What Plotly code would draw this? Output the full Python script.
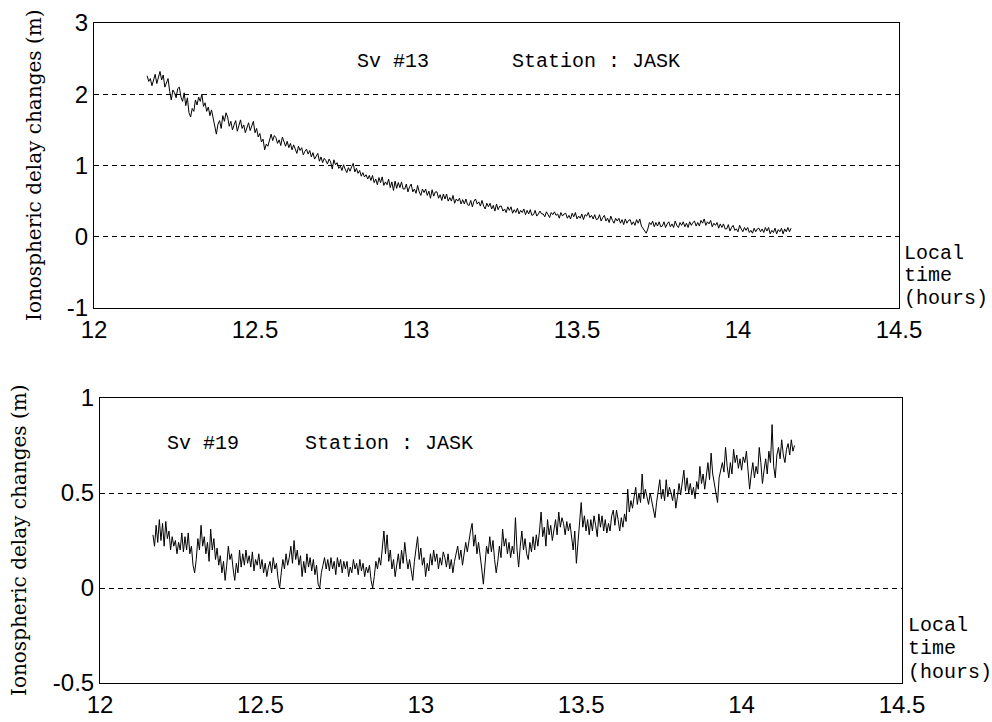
import numpy as np
import plotly.graph_objects as go

# ---- data ----
time_start_hours = 12.165
time_step_hours = 0.005

x_tick_values = [12, 12.5, 13, 13.5, 14, 14.5]
x_tick_labels = ["12", "12.5", "13", "13.5", "14", "14.5"]
y1_tick_values = [-1, 0, 1, 2, 3]
y1_tick_labels = ["-1", "0", "1", "2", "3"]
y2_tick_values = [-0.5, 0, 0.5, 1]
y2_tick_labels = ["-0.5", "0", "0.5", "1"]

sv13_delay = [
    2.26, 2.18, 2.22, 2.12, 2.20, 2.28, 2.15, 2.24, 2.32, 2.20, 2.27, 2.10, 2.16, 2.22, 2.04, 1.92, 2.06, 2.02, 1.95, 2.08,
    2.10, 1.96, 1.90, 2.02, 1.84, 1.95, 1.74, 1.68, 1.80, 1.76, 1.92, 1.85, 1.96, 1.90, 2.00, 1.83, 1.88, 1.76, 1.82, 1.70,
    1.78, 1.65, 1.55, 1.44, 1.58, 1.63, 1.52, 1.70, 1.62, 1.74, 1.68, 1.55, 1.62, 1.50, 1.57, 1.63, 1.48, 1.55, 1.64, 1.52,
    1.57, 1.46, 1.53, 1.60, 1.49, 1.56, 1.62, 1.46, 1.52, 1.40, 1.45, 1.33, 1.37, 1.22, 1.30, 1.27, 1.38, 1.44, 1.35, 1.42,
    1.39, 1.31, 1.36, 1.28, 1.40, 1.32, 1.27, 1.34, 1.25, 1.31, 1.22, 1.29, 1.24, 1.17, 1.27, 1.21, 1.25, 1.15, 1.20, 1.23,
    1.16, 1.21, 1.12, 1.18, 1.09, 1.14, 1.17, 1.06, 1.12, 1.04, 1.10, 1.07, 1.02, 1.09, 1.05, 0.95, 1.08, 1.01, 1.04, 0.96,
    0.99, 0.93, 1.01, 0.95, 0.90, 0.97, 0.92, 0.98, 1.03, 0.91, 0.96, 0.89, 0.93, 0.85, 0.90, 0.84, 0.87, 0.81, 0.86, 0.79,
    0.86, 0.76, 0.81, 0.73, 0.83, 0.76, 0.84, 0.72, 0.77, 0.73, 0.81, 0.69, 0.77, 0.65, 0.78, 0.68, 0.76, 0.69, 0.77, 0.67,
    0.67, 0.74, 0.63, 0.70, 0.74, 0.63, 0.67, 0.61, 0.72, 0.63, 0.58, 0.67, 0.62, 0.67, 0.58, 0.64, 0.54, 0.66, 0.57, 0.63,
    0.63, 0.54, 0.59, 0.51, 0.60, 0.53, 0.60, 0.50, 0.55, 0.50, 0.58, 0.47, 0.53, 0.50, 0.54, 0.46, 0.52, 0.46, 0.53, 0.45,
    0.44, 0.51, 0.42, 0.50, 0.53, 0.46, 0.49, 0.43, 0.51, 0.43, 0.39, 0.47, 0.42, 0.47, 0.39, 0.44, 0.36, 0.46, 0.38, 0.43,
    0.43, 0.36, 0.39, 0.34, 0.42, 0.37, 0.42, 0.33, 0.38, 0.34, 0.40, 0.32, 0.37, 0.34, 0.39, 0.31, 0.37, 0.32, 0.38, 0.30,
    0.31, 0.37, 0.29, 0.32, 0.36, 0.32, 0.32, 0.28, 0.35, 0.31, 0.27, 0.34, 0.31, 0.35, 0.30, 0.32, 0.26, 0.34, 0.29, 0.32,
    0.33, 0.26, 0.30, 0.25, 0.33, 0.28, 0.34, 0.25, 0.29, 0.26, 0.32, 0.24, 0.31, 0.29, 0.34, 0.27, 0.30, 0.25, 0.31, 0.24,
    0.25, 0.31, 0.22, 0.27, 0.30, 0.22, 0.26, 0.20, 0.29, 0.23, 0.19, 0.26, 0.22, 0.26, 0.19, 0.24, 0.17, 0.25, 0.19, 0.23,
    0.24, 0.17, 0.21, 0.16, 0.24, 0.19, 0.25, 0.15, 0.12, 0.08, 0.05, 0.11, 0.20, 0.17, 0.22, 0.14, 0.20, 0.15, 0.21, 0.14,
    0.15, 0.21, 0.13, 0.18, 0.21, 0.14, 0.18, 0.13, 0.22, 0.16, 0.13, 0.20, 0.16, 0.21, 0.14, 0.19, 0.13, 0.21, 0.16, 0.20,
    0.22, 0.15, 0.20, 0.15, 0.23, 0.19, 0.25, 0.16, 0.21, 0.18, 0.23, 0.14, 0.19, 0.16, 0.20, 0.12, 0.18, 0.13, 0.18, 0.11,
    0.11, 0.17, 0.08, 0.13, 0.16, 0.09, 0.11, 0.07, 0.16, 0.11, 0.07, 0.13, 0.09, 0.13, 0.06, 0.09, 0.05, 0.12, 0.07, 0.11,
    0.12, 0.07, 0.11, 0.06, 0.13, 0.08, 0.13, 0.04, 0.09, 0.06, 0.12, 0.04, 0.10, 0.07, 0.12, 0.04, 0.11, 0.07, 0.13, 0.07,
    0.12,
]

sv19_delay = [
    0.28, 0.22, 0.33, 0.24, 0.36, 0.25, 0.34, 0.22, 0.35, 0.26, 0.30, 0.20, 0.27, 0.22, 0.25, 0.18, 0.24, 0.20, 0.29, 0.19,
    0.27, 0.20, 0.29, 0.18, 0.22, 0.12, 0.08, 0.15, 0.26, 0.20, 0.33, 0.22, 0.27, 0.18, 0.24, 0.14, 0.31, 0.20, 0.26, 0.15,
    0.21, 0.12, 0.17, 0.08, 0.14, 0.04, 0.12, 0.22, 0.15, 0.18, 0.10, 0.04, 0.13, 0.08, 0.20, 0.11, 0.18, 0.12, 0.20, 0.13,
    0.17, 0.11, 0.19, 0.09, 0.15, 0.12, 0.18, 0.10, 0.15, 0.08, 0.13, 0.06, 0.11, 0.14, 0.08, 0.16, 0.10, 0.13, 0.05, 0.00,
    0.08, 0.15, 0.10, 0.18, 0.12, 0.16, 0.22, 0.13, 0.25, 0.15, 0.20, 0.12, 0.17, 0.06, 0.14, 0.08, 0.18, 0.11, 0.16, 0.09,
    0.15, 0.07, 0.12, 0.02, 0.00, 0.08, 0.12, 0.16, 0.10, 0.15, 0.09, 0.16, 0.10, 0.14, 0.07, 0.16, 0.11, 0.15, 0.08, 0.14,
    0.10, 0.14, 0.06, 0.11, 0.08, 0.15, 0.10, 0.13, 0.07, 0.15, 0.09, 0.13, 0.06, 0.11, 0.08, 0.12, 0.04, 0.00, 0.06, 0.14,
    0.10, 0.16, 0.12, 0.22, 0.30, 0.18, 0.28, 0.14, 0.20, 0.10, 0.15, 0.06, 0.12, 0.18, 0.10, 0.20, 0.13, 0.24, 0.16, 0.10,
    0.15, 0.08, 0.04, 0.14, 0.20, 0.27, 0.15, 0.21, 0.12, 0.16, 0.06, 0.13, 0.09, 0.18, 0.12, 0.20, 0.14, 0.18, 0.10, 0.16,
    0.12, 0.19, 0.16, 0.11, 0.18, 0.10, 0.15, 0.08, 0.14, 0.19, 0.22, 0.15, 0.20, 0.12, 0.18, 0.24, 0.19, 0.26, 0.30, 0.34,
    0.22, 0.28, 0.18, 0.24, 0.15, 0.10, 0.02, 0.14, 0.22, 0.18, 0.27, 0.19, 0.25, 0.15, 0.08, 0.14, 0.22, 0.16, 0.31, 0.22,
    0.26, 0.18, 0.24, 0.16, 0.22, 0.18, 0.37, 0.20, 0.11, 0.22, 0.30, 0.20, 0.26, 0.18, 0.15, 0.24, 0.19, 0.27, 0.20, 0.28,
    0.22, 0.30, 0.40, 0.27, 0.32, 0.22, 0.36, 0.28, 0.33, 0.25, 0.30, 0.36, 0.28, 0.40, 0.32, 0.37, 0.34, 0.28, 0.35, 0.30,
    0.34, 0.26, 0.20, 0.30, 0.13, 0.24, 0.35, 0.45, 0.32, 0.38, 0.30, 0.36, 0.28, 0.36, 0.30, 0.38, 0.33, 0.27, 0.39, 0.32,
    0.38, 0.30, 0.36, 0.29, 0.34, 0.30, 0.38, 0.41, 0.33, 0.41, 0.36, 0.30, 0.37, 0.32, 0.39, 0.35, 0.52, 0.40, 0.46, 0.42,
    0.48, 0.53, 0.44, 0.50, 0.45, 0.60, 0.47, 0.52, 0.48, 0.44, 0.50, 0.46, 0.41, 0.37, 0.45, 0.51, 0.57, 0.47, 0.52, 0.46,
    0.57, 0.48, 0.53, 0.50, 0.46, 0.52, 0.42, 0.48, 0.55, 0.49, 0.56, 0.62, 0.51, 0.58, 0.50, 0.55, 0.49, 0.53, 0.47, 0.56,
    0.52, 0.64, 0.55, 0.60, 0.52, 0.58, 0.66, 0.57, 0.71, 0.60, 0.55, 0.50, 0.45, 0.58, 0.63, 0.66, 0.61, 0.74, 0.64, 0.58,
    0.66, 0.60, 0.73, 0.66, 0.70, 0.63, 0.68, 0.62, 0.69, 0.66, 0.72, 0.63, 0.52, 0.60, 0.66, 0.58, 0.64, 0.60, 0.74, 0.66,
    0.55, 0.62, 0.68, 0.60, 0.72, 0.66, 0.86, 0.64, 0.58, 0.70, 0.74, 0.68, 0.78, 0.70, 0.66, 0.73, 0.76, 0.70, 0.78, 0.72,
    0.75,
]

# ---- figure ----
W, H = 992, 722


def px(x):
    return x / W


def py(y):
    return 1 - y / H


hours13 = time_start_hours + time_step_hours * np.arange(len(sv13_delay))
hours19 = time_start_hours + time_step_hours * np.arange(len(sv19_delay))

fig = go.Figure()
fig.add_trace(go.Scatter(x=hours13, y=sv13_delay, mode="lines",
                         line=dict(color="black", width=1),
                         xaxis="x", yaxis="y", showlegend=False, hoverinfo="skip"))
fig.add_trace(go.Scatter(x=hours19, y=sv19_delay, mode="lines",
                         line=dict(color="black", width=1),
                         xaxis="x2", yaxis="y2", showlegend=False, hoverinfo="skip"))

tick_font = dict(family="Liberation Sans, Arial, sans-serif", size=24, color="black")
axis_common = dict(showline=True, mirror=True, linecolor="black", linewidth=1,
                   ticks="", zeroline=False, tickfont=tick_font, automargin=False)

fig.update_layout(
    template="none",
    width=W, height=H,
    margin=dict(l=0, r=0, t=0, b=0, autoexpand=False),
    paper_bgcolor="white", plot_bgcolor="white",
    showlegend=False,
    xaxis=dict(domain=[px(94), px(899)], range=[12, 14.5], anchor="y",
               tickvals=x_tick_values, ticktext=x_tick_labels, showgrid=False,
               **axis_common),
    yaxis=dict(domain=[py(308), py(23)], range=[-1, 3], anchor="x",
               tickvals=y1_tick_values, ticktext=y1_tick_labels,
               showgrid=True, gridcolor="black", gridwidth=1, griddash="5px,4px",
               **axis_common),
    xaxis2=dict(domain=[px(100), px(902)], range=[12, 14.5], anchor="y2",
                tickvals=x_tick_values, ticktext=x_tick_labels, showgrid=False,
                **axis_common),
    yaxis2=dict(domain=[py(683), py(398)], range=[-0.5, 1], anchor="x2",
                tickvals=y2_tick_values, ticktext=y2_tick_labels,
                showgrid=True, gridcolor="black", gridwidth=1, griddash="5px,4px",
                **axis_common),
)

mono = dict(family="Liberation Mono, Courier New, monospace", size=20, color="black")
serif = dict(family="DejaVu Serif, serif", size=20, color="black")

annotations = [
    # top panel
    dict(text="Sv #13", x=px(355), y=py(62), xanchor="left", yanchor="middle", font=mono),
    dict(text="Station : JASK", x=px(510), y=py(62), xanchor="left", yanchor="middle", font=mono),
    dict(text="Local", x=px(902), y=py(253), xanchor="left", yanchor="middle", font=mono),
    dict(text="time", x=px(902), y=py(275), xanchor="left", yanchor="middle", font=mono),
    dict(text="(hours)", x=px(902), y=py(298), xanchor="left", yanchor="middle", font=mono),
    dict(text="Ionospheric delay changes (m)", x=px(34), y=py(165), textangle=-90,
         xanchor="center", yanchor="middle", font=serif),
    # bottom panel
    dict(text="Sv #19", x=px(165), y=py(443), xanchor="left", yanchor="middle", font=mono),
    dict(text="Station : JASK", x=px(303), y=py(443), xanchor="left", yanchor="middle", font=mono),
    dict(text="Local", x=px(906), y=py(625), xanchor="left", yanchor="middle", font=mono),
    dict(text="time", x=px(906), y=py(648), xanchor="left", yanchor="middle", font=mono),
    dict(text="(hours)", x=px(906), y=py(672), xanchor="left", yanchor="middle", font=mono),
    dict(text="Ionospheric delay changes (m)", x=px(19), y=py(540), textangle=-90,
         xanchor="center", yanchor="middle", font=serif),
]
for a in annotations:
    a.update(xref="paper", yref="paper", showarrow=False)
fig.update_layout(annotations=annotations)

fig.write_html(
    "out.html",
    config={"displayModeBar": False},
    post_script="document.body.style.margin='0px'; document.body.style.padding='0px';",
)
